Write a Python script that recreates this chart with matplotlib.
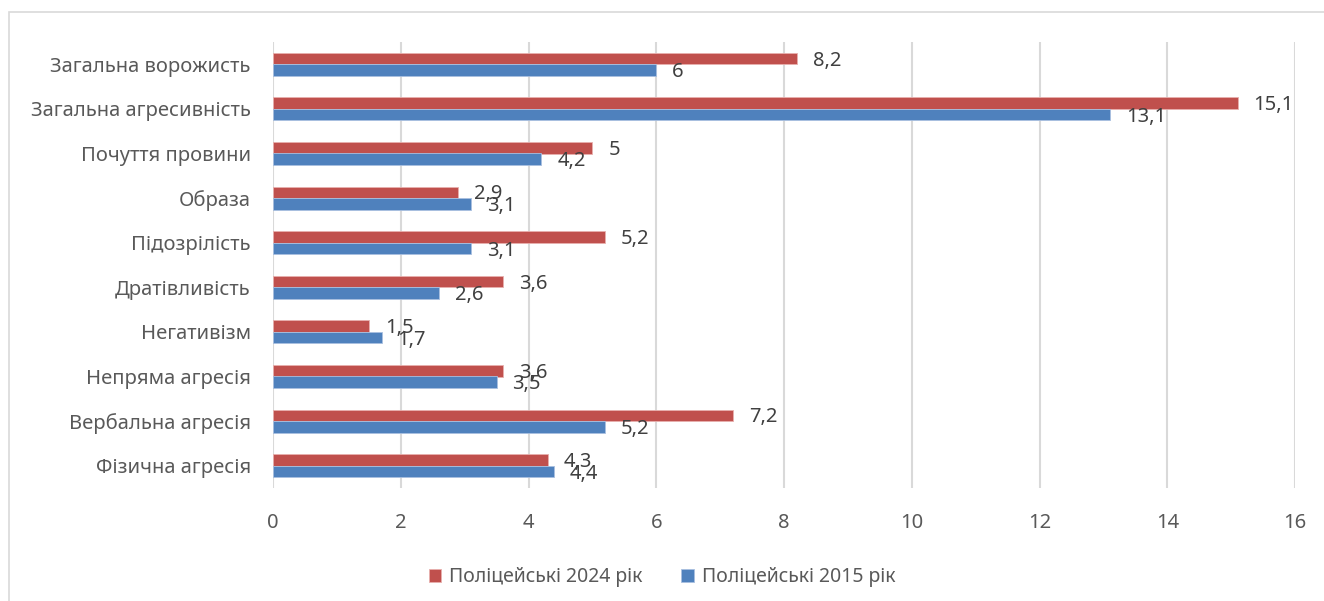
import numpy as np
import matplotlib.pyplot as plt
from matplotlib.patches import Rectangle

plt.rcParams['font.family'] = ['Noto Sans', 'DejaVu Sans']

# Data (top to bottom as in the chart)
categories = ['Загальна ворожисть', 'Загальна агресивність', 'Почуття провини',
              'Образа', 'Підозрілість', 'Дратівливість', 'Негативізм',
              'Непряма агресія', 'Вербальна агресія', 'Фізична агресія']
police_2024 = [8.2, 15.1, 5, 2.9, 5.2, 3.6, 1.5, 3.6, 7.2, 4.3]
police_2015 = [6, 13.1, 4.2, 3.1, 3.1, 2.6, 1.7, 3.5, 5.2, 4.4]
x_ticks = [0, 2, 4, 6, 8, 10, 12, 14, 16]

red = '#C0504D'
blue = '#4F81BD'

fig = plt.figure(figsize=(13.24, 6.01), dpi=100)
# outer chart border
fig.patches.append(Rectangle((9 / 1324, -0.1), 1.2, 1 - 12 / 601 + 0.1,
                             transform=fig.transFigure, fill=False,
                             edgecolor='#D9D9D9', lw=1.2))

ax = fig.add_axes([273 / 1324, 1 - 488 / 601, (1295 - 273) / 1324, (488 - 42) / 601])

y = np.arange(len(categories))
h = 0.26
b1 = ax.barh(y - h / 2, police_2024, height=h, color=red, edgecolor='#E8B0AE',
             linewidth=0.6, label='Поліцейські 2024 рік', zorder=3)
b2 = ax.barh(y + h / 2, police_2015, height=h, color=blue, edgecolor='#A9C0E0',
             linewidth=0.6, label='Поліцейські 2015 рік', zorder=3)

def fmt(v):
    return ('%g' % v).replace('.', ',')

for bars, vals in ((b1, police_2024), (b2, police_2015)):
    for bar, v in zip(bars, vals):
        ax.annotate(fmt(v), (v, bar.get_y() + bar.get_height() / 2),
                    xytext=(11.5, -1.5), textcoords='offset points',
                    ha='left', va='center', fontsize=14.5, color='#404040')

ax.set_xlim(0, 16)
ax.set_ylim(len(categories) - 0.5, -0.5)
ax.set_xticks(x_ticks)
ax.set_yticks(y)
ax.set_yticklabels(categories)
ax.tick_params(axis='both', length=0, labelsize=14.5, colors='#595959')
ax.tick_params(axis='y', pad=16)
ax.tick_params(axis='x', pad=18)
ax.grid(axis='x', color='#D9D9D9', lw=1.5, zorder=0)
ax.set_axisbelow(True)
for s in ax.spines.values():
    s.set_visible(False)

ax.legend(loc='center', bbox_to_anchor=(662 / 1324, 1 - 577 / 601),
          bbox_transform=fig.transFigure, ncol=2, frameon=False,
          fontsize=14, handlelength=0.65, handleheight=0.65, handletextpad=0.4,
          columnspacing=2.0, labelcolor='#595959')

fig.savefig('out.png', dpi=100)
